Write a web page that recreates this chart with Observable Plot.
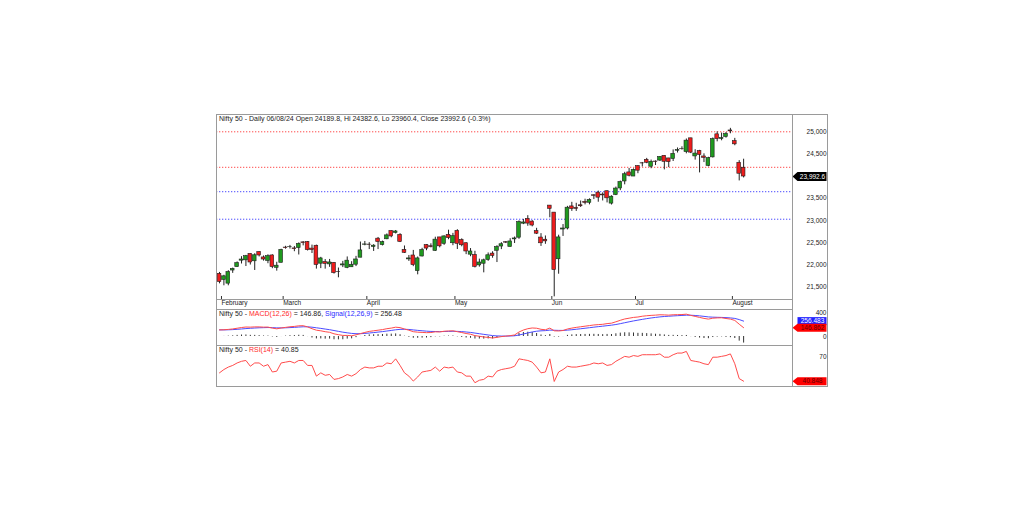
<!DOCTYPE html>
<html><head><meta charset="utf-8">
<script src="https://cdn.jsdelivr.net/npm/d3@7"></script>
<script src="https://cdn.jsdelivr.net/npm/@observablehq/plot@0.6"></script>
<style>
body{margin:0;background:#fff;font-family:"Liberation Sans",Arial,sans-serif;}
#wrap{position:relative;width:1028px;height:522px;overflow:hidden;background:#fff;}
.ttl{position:absolute;left:219px;font-size:7px;color:#222;white-space:nowrap;line-height:8px;}
#frame{position:absolute;left:216px;top:114px;width:612px;height:273px;border:1px solid #9a9a9a;box-sizing:border-box;}
.vsep{position:absolute;left:792px;top:299px;width:1px;height:10px;background:#9a9a9a;}
</style></head>
<body><div id="wrap"><div id="frame"></div><div class="vsep"></div></div>
<script>
// ---------- data ----------
const dates = ["02-12","02-13","02-14","02-15","02-16","02-19","02-20","02-21","02-22","02-23","02-26","02-27","02-28","02-29",
"03-01","03-02","03-04","03-05","03-06","03-07","03-11","03-12","03-13","03-14","03-15","03-18","03-19","03-20","03-21","03-22","03-26","03-27","03-28",
"04-01","04-02","04-03","04-04","04-05","04-08","04-09","04-10","04-12","04-15","04-16","04-18","04-19","04-22","04-23","04-24","04-25","04-26","04-29","04-30",
"05-02","05-03","05-06","05-07","05-08","05-09","05-10","05-13","05-14","05-15","05-16","05-17","05-18","05-21","05-22","05-23","05-24","05-27","05-28","05-29","05-30","05-31",
"06-03","06-04","06-05","06-06","06-07","06-10","06-11","06-12","06-13","06-14","06-18","06-19","06-20","06-21","06-24","06-25","06-26","06-27","06-28",
"07-01","07-02","07-03","07-04","07-05","07-08","07-09","07-10","07-11","07-12","07-15","07-16","07-18","07-19","07-22","07-23","07-24","07-25","07-26","07-29","07-30","07-31",
"08-01","08-02","08-05","08-06"];
const open = [21800,21664,21578,21874,21950,22096,22104,22248,22082,22290,22169,22090,22214,21935,
22048,22391,22403,22372,22381,22508,22517,22368,22432,22028,22065,22012,22046,21843,21989,21932,21947,22005,22163,
22455,22458,22406,22592,22447,22578,22765,22721,22677,22339,22125,22213,21861,22190,22449,22421,22316,22620,22475,22679,
22489,22766,22561,22489,22231,22225,21990,22027,22112,22255,22319,22415,22512,22404,22576,22614,22930,23038,22977,22762,22617,22568,
23337,23179,22128,22798,22821,23319,23283,23344,23420,23401,23570,23629,23586,23661,23382,23577,23723,23881,24085,
23992,24228,24291,24369,24213,24330,24351,24459,24400,24388,24573,24616,24543,24853,24445,24568,24444,24230,24424,24943,24839,24886,
25030,24790,24302,24189.8];
const high = [21831,21767,21870,21929,22068,22186,22215,22250,22252,22298,22202,22229,22229,22060,
22354,22420,22440,22416,22497,22525,22527,22447,22446,22171,22121,22124,22055,21930,22080,22180,22073,22193,22516,
22529,22502,22457,22619,22537,22698,22768,22776,22704,22427,22213,22327,22179,22375,22459,22476,22625,22620,22655,22783,
22711,22794,22588,22499,22369,22307,22131,22131,22270,22297,22432,22502,22525,22591,22629,22993,23026,23110,22998,22825,22705,22653,
23338,23179,22670,22910,23320,23411,23389,23441,23481,23490,23579,23664,23624,23667,23558,23754,23889,24087,24174,
24164,24236,24309,24401,24363,24344,24443,24461,24402,24592,24636,24662,24838,24854,24596,24582,24504,24426,24861,24999,24971,24984,
25078,24852,24350,24382.6];
const low = [21574,21530,21530,21810,21950,22021,21964,21998,21875,22180,22086,22027,21915,21860,
22048,22355,22358,22298,22224,22430,22314,22257,21906,21917,21905,21946,21794,21710,21940,21915,21947,21963,22163,
22431,22346,22304,22346,22428,22569,22612,22698,22504,22259,22079,21961,21777,22180,22320,22384,22305,22385,22441,22568,
22433,22348,22409,22232,22185,21932,21950,21822,22081,22151,22054,22345,22482,22404,22483,22577,22908,22871,22858,22685,22417,22465,
23062,21281,21791,22642,22789,23207,23206,23295,23353,23354,23473,23413,23442,23398,23350,23562,23674,23805,23985,
23992,24056,24207,24281,24168,24240,24331,24142,24193,24331,24522,24587,24504,24509,24362,24074,24307,24211,24410,24774,24798,24857,
24956,24686,23893,23960.4];
const close = [21616,21743,21840,21911,22041,22122,22197,22055,22218,22213,22122,22198,21952,21983,
22339,22378,22406,22356,22474,22493,22333,22335,21998,22146,22023,22056,21817,21839,22012,22096,22004,22123,22327,
22462,22453,22434,22515,22514,22666,22642,22754,22519,22272,22147,21995,22147,22336,22368,22402,22570,22419,22643,22605,
22648,22476,22443,22303,22303,21958,22055,22104,22218,22201,22403,22466,22502,22529,22597,22967,22957,22932,22888,22704,22488,22531,
23264,21884,22620,22821,23290,23259,23264,23323,23398,23465,23557,23516,23567,23501,23538,23721,23868,24044,24010,
24141,24124,24286,24302,24324,24321,24433,24324,24316,24502,24587,24613,24801,24531,24510,24479,24414,24406,24835,24836,24857,24951,
25011,24718,24055,23992.6];
const macd = [110,112,118,126,138,150,158,156,160,160,156,157,140,128,
142,152,162,168,178,180,160,130,105,95,80,70,45,30,18,18,12,28,48,
68,85,95,105,115,130,140,155,148,125,105,80,72,68,64,66,78,76,88,92,
95,80,66,50,38,15,4,-8,-15,-25,-14,-2,6,14,26,75,108,130,142,138,120,112,
140,95,92,100,125,140,152,162,172,182,192,198,203,215,222,245,270,292,305,
318,325,338,346,352,356,362,360,356,362,364,366,372,352,335,318,302,290,305,310,312,300,
290,268,205,146.862];
const signal = [110,110.4,111.9,114.7,119.4,125.5,132.0,136.8,141.4,145.2,147.3,149.3,147.4,143.5,
143.2,145.0,148.4,152.3,157.4,161.9,161.5,155.2,145.2,135.2,124.2,113.4,99.7,85.8,72.2,61.4,51.5,46.8,47.0,
51.2,58.0,65.4,73.3,81.6,91.3,101.0,111.8,119.0,120.2,117.2,109.8,102.2,95.4,89.1,84.5,83.2,81.8,83.0,84.8,
86.8,85.4,81.5,75.2,67.8,57.2,46.6,35.7,25.6,15.5,9.6,7.3,7.0,8.4,11.9,24.5,41.2,59.0,75.6,88.1,94.5,98.0,
106.4,104.1,101.7,101.4,106.1,112.9,120.7,129.0,137.6,146.5,155.6,164.1,171.9,180.5,188.8,200.0,214.0,229.6,244.7,
259.4,272.5,285.6,297.7,308.6,318.1,326.9,333.5,338.0,342.8,347.0,350.8,355.0,354.4,350.5,344.0,335.6,326.5,322.2,319.8,318.2,314.6,
309.7,301.4,282.1,256.483];
const rsi = [51,55,58,60,63,65,66,59,63,63,59,61,52,53,
63,64,65,63,66,66,60,60,47,51,48,49,43,44,46,49,47,50,55,
58,57,57,59,59,63,62,68,60,51,47,41,46,52,53,54,58,53,58,57,
58,52,51,47,47,39,42,43,47,46,53,55,56,57,59,68,67,66,64,58,51,52,
68,40.5,52,55,59,58,58,59,60,61,63,62,63,60,61,65,68,71,70,
72,71,73,73,73,73,74,70,70,73,75,75,77,66,65,64,62,61,70,70,71,72,
74,62,44,40.848];
const monthNames = ["February","March","April","May","Jun","Jul","August"];
const monthStart = ["02-12","03-01","04-01","05-02","06-03","07-01","08-01"];
const priceTicks = [21500,22000,22500,23000,23500,24500,25000];
const resistance = [25000,24200];
const support = [23650,23030];
const macdTicks = [0,400];
const rsiTicks = [70];
const titleText = "Nifty 50 - Daily 06/08/24 Open 24189.8, Hi 24382.6, Lo 23960.4, Close 23992.6 (-0.3%)";

// ---------- build ----------
const candles = dates.map((d,i)=>({i, date:d, open:open[i], high:high[i], low:low[i], close:close[i]}));
const ind = dates.map((d,i)=>({i, macd:macd[i], signal:signal[i], hist:macd[i]-signal[i], rsi:rsi[i]}));
const monthIdx = monthStart.map(m=>dates.indexOf(m));
const last = candles[candles.length-1];
const lastInd = ind[ind.length-1];

const GREEN="#1f9a1f", RED="#ee1c1c", GRID_R="#ff4b4b", GRID_B="#4b4bff", FRAME="#9a9a9a";
const xDom = [-0.68, 130.1];
const baseStyle = {fontFamily:"'Liberation Sans', Arial, sans-serif", fontSize:"6.5px", color:"#222", background:"transparent", overflow:"visible"};
const wrap = document.getElementById("wrap");

const tagShape = (w,h,a) => ({draw(ctx){ctx.moveTo(0,0);ctx.lineTo(a,-h/2);ctx.lineTo(a+w,-h/2);ctx.lineTo(a+w,h/2);ctx.lineTo(a,h/2);ctx.closePath();}});
const boxShape = (w,h,off) => ({draw(ctx){ctx.moveTo(off,-h/2);ctx.lineTo(off+w,-h/2);ctx.lineTo(off+w,h/2);ctx.lineTo(off,h/2);ctx.closePath();}});

function place(svg, top){ svg.style.position="absolute"; svg.style.left="216px"; svg.style.top=top+"px"; wrap.appendChild(svg); }

// price panel
const price = Plot.plot({
  width:612, height:195, marginTop:0, marginBottom:10, marginLeft:0, marginRight:36,
  style: baseStyle,
  x:{type:"linear", domain:xDom, axis:null},
  y:{domain:[21221,25390], axis:null},
  marks:[
    Plot.ruleY(resistance, {stroke:GRID_R, strokeDasharray:"1.3,1.7"}),
    Plot.ruleY(support, {stroke:GRID_B, strokeDasharray:"1.3,1.7"}),
    Plot.ruleX(candles, {x:"i", y1:"low", y2:"high", stroke:"#222", strokeWidth:1}),
    Plot.rect(candles, {x1:d=>d.i-0.42, x2:d=>d.i+0.42, y1:"open", y2:"close", fill:d=>d.close>=d.open?GREEN:RED, stroke:"#1e1e1e", strokeWidth:0.6}),
    Plot.axisY({anchor:"right", label:null, ticks:priceTicks, tickFormat:d3.format(","), tickSize:0, tickPadding:34, textAnchor:"end", fill:"#222"}),
    Plot.axisX({anchor:"bottom", label:null, ticks:monthIdx, tickFormat:d=>monthNames[monthIdx.indexOf(d)], tickSize:4, tickPadding:0, dy:-3, textAnchor:"start", dx:2, stroke:"#333", fill:"#222"}),
    Plot.dot([last], {y:"close", frameAnchor:"right", symbol:tagShape(29,9,5), fill:"#000", stroke:"none"}),
    Plot.text([last], {y:"close", frameAnchor:"right", dx:20, text:d=>d3.format(",.1f")(d.close), fill:"#fff", fontSize:6.5, textAnchor:"middle"}),
    Plot.frame({stroke:FRAME})
  ]
});
place(price, 114);

// MACD panel
const macdPlot = Plot.plot({
  width:612, height:36, marginTop:0, marginBottom:0, marginLeft:0, marginRight:36,
  style: baseStyle,
  x:{type:"linear", domain:xDom, axis:null},
  y:{domain:[-150,450], axis:null},
  marks:[
    Plot.ruleX(ind, {x:"i", y1:0, y2:"hist", stroke:"#333", strokeWidth:1}),
    Plot.line(ind, {x:"i", y:"signal", stroke:GRID_B, strokeWidth:1}),
    Plot.line(ind, {x:"i", y:"macd", stroke:GRID_R, strokeWidth:1}),
    Plot.axisY({anchor:"right", label:null, ticks:macdTicks, tickFormat:d3.format("d"), tickSize:0, tickPadding:34, textAnchor:"end", fill:"#222"}),
    Plot.dot([lastInd], {y:"signal", frameAnchor:"right", symbol:boxShape(29,8,5), fill:"#2323ff", stroke:"none"}),
    Plot.text([lastInd], {y:"signal", frameAnchor:"right", dx:20, text:d=>d3.format(".3f")(d.signal), fill:"#fff", fontSize:6.5, textAnchor:"middle"}),
    Plot.dot([lastInd], {y:"macd", frameAnchor:"right", symbol:tagShape(29,8,5), fill:"#ff0000", stroke:"none"}),
    Plot.text([lastInd], {y:"macd", frameAnchor:"right", dx:20, text:d=>d3.format(".3f")(d.macd), fill:"#600", fontSize:6.5, textAnchor:"middle"}),
    Plot.frame({stroke:FRAME})
  ]
});
place(macdPlot, 309);

// RSI panel
const rsiPlot = Plot.plot({
  width:612, height:41, marginTop:0, marginBottom:0, marginLeft:0, marginRight:36,
  style: baseStyle,
  x:{type:"linear", domain:xDom, axis:null},
  y:{domain:[34.4,84.2], axis:null},
  marks:[
    Plot.line(ind, {x:"i", y:"rsi", stroke:GRID_R, strokeWidth:1}),
    Plot.axisY({anchor:"right", label:null, ticks:rsiTicks, tickFormat:d3.format("d"), tickSize:0, tickPadding:34, textAnchor:"end", fill:"#222"}),
    Plot.dot([lastInd], {y:"rsi", frameAnchor:"right", symbol:tagShape(29,8,5), fill:"#ff0000", stroke:"none"}),
    Plot.text([lastInd], {y:"rsi", frameAnchor:"right", dx:20, text:d=>d3.format(".3f")(d.rsi), fill:"#600", fontSize:6.5, textAnchor:"middle"}),
    Plot.frame({stroke:FRAME})
  ]
});
place(rsiPlot, 345);

// titles (real text)
function title(top, html){ const d=document.createElement("div"); d.className="ttl"; d.style.top=top+"px"; d.innerHTML=html; wrap.appendChild(d); }
const f2 = d3.format(".2f");
title(115, titleText);
title(309.5, `Nifty 50 - <span style="color:#ff2a2a">MACD(12,26)</span> = ${f2(lastInd.macd)}, <span style="color:#2a2aff">Signal(12,26,9)</span> = ${f2(lastInd.signal)}`);
title(345.5, `Nifty 50 - <span style="color:#ff2a2a">RSI(14)</span> = ${f2(lastInd.rsi)}`);
</script>
</body></html>
